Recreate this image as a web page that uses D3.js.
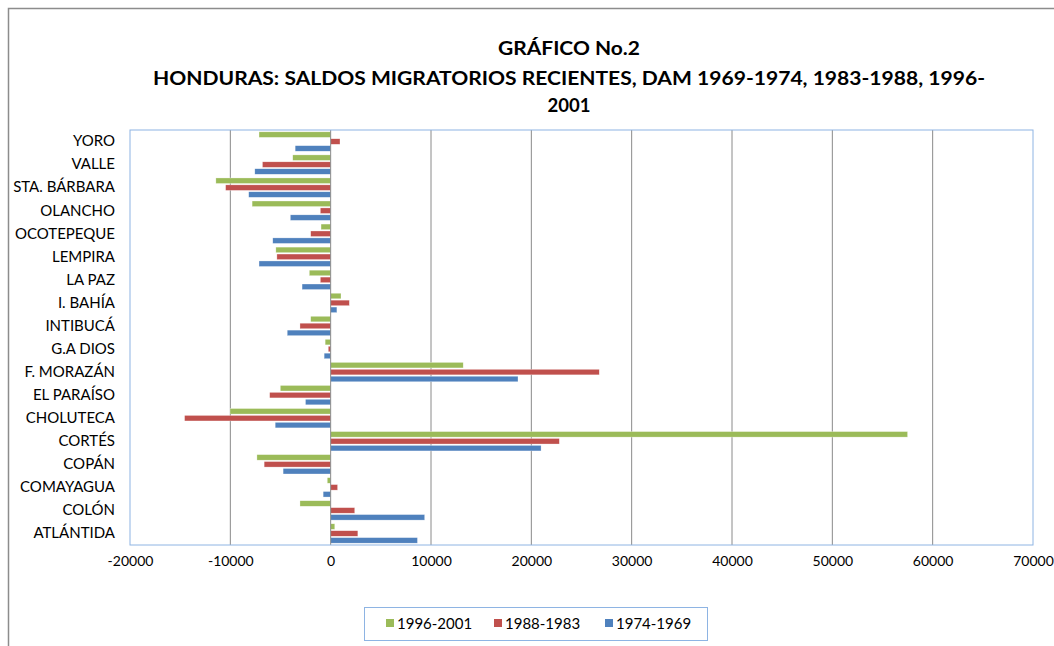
<!DOCTYPE html>
<html><head><meta charset="utf-8">
<script src="https://cdn.jsdelivr.net/npm/d3@7"></script>
<style>body{margin:0;background:#fff}svg{display:block}</style>
</head><body><svg id="c" width="1054" height="646"></svg>
<script>
const categories = ["YORO","VALLE","STA. BÁRBARA","OLANCHO","OCOTEPEQUE","LEMPIRA","LA PAZ","I. BAHÍA","INTIBUCÁ","G.A DIOS","F. MORAZÁN","EL PARAÍSO","CHOLUTECA","CORTÉS","COPÁN","COMAYAGUA","COLÓN","ATLÁNTIDA"];
const s1996_2001 = [-7140,-3780,-11440,-7830,-960,-5460,-2130,1030,-1990,-550,13210,-5020,-10030,57500,-7350,-340,-3060,410];
const s1988_1983 = [930,-6800,-10470,-1030,-1990,-5360,-1030,1860,-3060,-240,26770,-6080,-14560,22790,-6630,690,2400,2710];
const s1974_1969 = [-3540,-7560,-8170,-4020,-5770,-7140,-2850,620,-4330,-650,18670,-2510,-5530,20970,-4740,-750,9370,8650];
const seriesNames = ["1996-2001","1988-1983","1974-1969"];
const xTicks = [-20000,-10000,0,10000,20000,30000,40000,50000,60000,70000];
const titleLines = ["GRÁFICO No.2","HONDURAS: SALDOS MIGRATORIOS RECIENTES,  DAM 1969-1974, 1983-1988, 1996-","2001"];

const series = [s1996_2001, s1988_1983, s1974_1969];
const colors = ["#9BBB59","#C0504D","#4F81BD"];
const svg = d3.select("#c");
const font = "Lato, 'Open Sans', sans-serif";

// outer border
svg.append("path").attr("d","M8.5,646 V8.5 H1054").attr("fill","none").attr("stroke","#8c8c8c").attr("stroke-width",1.5);

const L=130, R=1033, T=130, B=545;
const x = d3.scaleLinear().domain([-20000,70000]).range([L,R]);
const y = d3.scaleBand().domain(categories).range([T,B]).paddingInner(0.16).paddingOuter(0.08);
const ys = d3.scaleBand().domain([0,1,2]).range([0,y.bandwidth()]).paddingInner(0.2);

// title
const tw=[142,832,43], ty=[55,85,112];
titleLines.forEach((t,i)=>{
  svg.append("text").attr("x",569).attr("y",ty[i]).attr("text-anchor","middle")
    .attr("font-family",font).attr("font-weight","bold").attr("font-size",19)
    .attr("textLength",tw[i]).attr("lengthAdjust","spacingAndGlyphs").attr("fill","#000").text(t);
});

// gridlines
svg.append("g").selectAll("line").data(xTicks.filter(d=>d!==-20000 && d!==70000 && d!==0)).join("line")
  .attr("x1",d=>x(d)).attr("x2",d=>x(d)).attr("y1",T).attr("y2",B)
  .attr("stroke","#8a8a8a").attr("stroke-width",1);

// bars
series.forEach((s,si)=>{
  svg.append("g").selectAll("rect").data(s).join("rect")
    .attr("x",d=>x(Math.min(0,d))).attr("width",d=>Math.abs(x(d)-x(0)))
    .attr("y",(d,i)=>y(categories[i])+ys(si)).attr("height",ys.bandwidth())
    .attr("fill",colors[si]).attr("stroke","rgba(255,255,255,0.6)").attr("stroke-width",0.5);
});

// zero line
svg.append("line").attr("x1",x(0)).attr("x2",x(0)).attr("y1",T).attr("y2",B).attr("stroke","#8a8a8a").attr("stroke-width",1);

// plot border
svg.append("rect").attr("x",L).attr("y",T).attr("width",R-L).attr("height",B-T)
  .attr("fill","none").attr("stroke","#8EB4E3").attr("stroke-width",1);

// x axis labels
const xa = svg.append("g").attr("transform",`translate(0,${B})`).call(d3.axisBottom(x).tickValues(xTicks).tickSize(0).tickPadding(11).tickFormat(d=>String(d)));
xa.select(".domain").remove();
xa.selectAll("text").attr("font-family",font).attr("font-size",14).attr("fill","#000");

// y axis labels
const ya = svg.append("g").attr("transform",`translate(${L},0)`).call(d3.axisLeft(y).tickSize(0).tickPadding(15));
ya.select(".domain").remove();
ya.selectAll("text").attr("font-family",font).attr("font-size",15).attr("fill","#000");

// legend
svg.append("rect").attr("x",364.5).attr("y",607.5).attr("width",343).attr("height",33).attr("fill","#fff").attr("stroke","#8EB4E3");
const lx=[386,494,605];
seriesNames.forEach((n,i)=>{
  svg.append("rect").attr("x",lx[i]).attr("y",619).attr("width",8).attr("height",8).attr("fill",colors[i]);
  svg.append("text").attr("x",lx[i]+11).attr("y",628.5).attr("font-family",font).attr("font-size",15).attr("fill","#000").text(n);
});
</script></body></html>
